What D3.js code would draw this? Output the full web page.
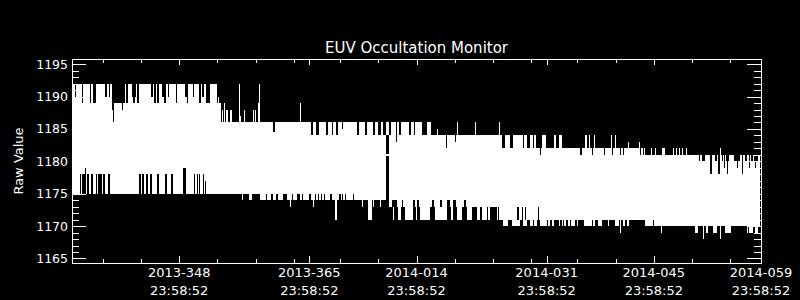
<!DOCTYPE html>
<html>
<head>
<meta charset="utf-8">
<script src="https://cdn.jsdelivr.net/npm/d3@7"></script>
<style>
  html, body { margin: 0; padding: 0; background: #000; }
  svg { display: block; }
  text { fill: #fff; font-family: "DejaVu Sans", sans-serif; }
</style>
</head>
<body>
<div id="chart"></div>
<script>
// x values are day numbers counted from 2013-001 (2014-014 = 379), all at 23:58:52
const dayRange = [334, 424];
const majorDays = [348, 365, 379, 396, 410, 424];
const minorDays = [338, 343, 353, 358, 363, 369, 374, 384, 389, 394, 400, 405, 415, 420];
const yMajor = [1165, 1170, 1175, 1180, 1185, 1190, 1195];

// solid part of the band: start day, upper and lower raw value
const segStart = [334.0, 352.95, 363.8, 375.43, 379.67, 389.67, 393.59, 408.88];
const segEnd = 423.85;
const segHi = [1192, 1186, 1186, 1186, 1184, 1184, 1182, 1181];
const segLo = [1175, 1175, 1174, 1173, 1173, 1171, 1171, 1170];

// [from day, to day, low value, high value]
const upperCuts = [
  [334.39,334.52,1190,1192],[335.31,335.44,1189,1192],[336.35,336.48,1189,1192],
  [336.74,337.14,1189,1192],[338.31,338.51,1190,1192],[338.77,338.97,1190,1192],
  [339.23,340.93,1189,1192],[339.23,339.49,1188,1189],[339.36,339.45,1186,1188],
  [340.47,340.60,1188,1189],[341.06,341.32,1189,1192],[341.84,342.36,1190,1192],
  [341.97,342.23,1189,1190],[342.43,342.69,1189,1192],[344.32,344.52,1190,1192],
  [344.72,344.98,1189,1192],[345.04,345.30,1189,1192],[345.76,345.96,1190,1192],
  [346.02,346.28,1189,1192],[346.48,346.68,1190,1192],[347.53,347.72,1189,1192],
  [348.77,348.96,1190,1192],[348.96,349.16,1189,1192],[349.81,349.94,1190,1192],
  [350.60,350.79,1189,1192],[350.99,351.18,1190,1192],[351.45,352.03,1189,1192],
  [360.27,360.53,1184.5,1186],[365.23,365.46,1184,1186],[365.89,366.32,1184,1186],
  [367.19,367.41,1184,1186],[367.94,368.15,1184,1186],[368.50,368.72,1184,1186],
  [369.24,369.45,1185,1186],[371.24,371.50,1184,1186],[372.29,372.51,1184,1186],
  [373.30,373.60,1184,1186],[374.03,374.38,1184,1186],[374.60,375.03,1184,1186],
  [375.46,375.65,1184,1186],[376.34,376.47,1183,1186],[376.77,376.95,1184,1186],
  [378.08,378.26,1184,1186],[378.69,378.86,1184,1186],
  [382.87,383.00,1182,1184],[384.05,384.18,1183,1184],[390.23,390.54,1182,1184],
  [391.24,391.67,1182,1184],[392.85,392.98,1182,1184],[393.46,393.59,1182,1184],
  [395.16,395.29,1181,1182],[400.39,400.65,1181,1182],[401.95,402.08,1181,1182],
  [403.52,403.65,1181,1182],[404.57,404.70,1181,1182],[405.61,405.74,1181,1182],
  [406.00,406.13,1181,1182],[408.23,408.36,1181,1182],[408.62,408.75,1181,1182],
  [415.90,416.07,1180,1181],[416.29,416.63,1180,1181],[417.38,417.59,1178,1181],
  [418.03,418.20,1180,1181],[418.42,418.68,1178,1181],[418.90,419.07,1180,1181],
  [419.14,419.27,1179,1181],[419.42,419.76,1180,1181],[419.60,419.73,1178,1181],
  [420.42,421.30,1180,1181],[420.84,420.97,1179,1181],[421.56,421.69,1178,1181],
  [421.95,422.16,1180,1181],[422.37,422.50,1179,1181],[422.73,422.90,1180,1181],
  [423.03,423.61,1180,1181],[423.26,423.39,1179,1181]
];

const upperSpikes = [
  [352.95,353.08,1186,1189],[353.12,353.25,1186,1190],[353.25,353.47,1186,1189],
  [353.56,353.73,1186,1188],[353.90,354.03,1186,1189],[354.16,354.35,1186,1188],
  [354.65,354.91,1186,1188],[355.86,355.99,1186,1192],[355.95,356.08,1186,1187],
  [356.44,356.61,1186,1188],[357.65,357.82,1186,1188],[357.91,358.08,1186,1188],
  [358.27,358.44,1186,1189],[358.44,358.57,1186,1192],[363.80,363.93,1186,1189],
  [380.39,380.91,1184,1186],[381.66,381.79,1184,1185],[384.31,384.44,1184,1186],
  [386.66,386.79,1184,1186],[389.80,389.93,1184,1186],
  [393.85,394.24,1182,1184],[394.37,394.63,1182,1184],[395.42,395.94,1182,1184],
  [396.99,397.25,1182,1184],[397.64,398.03,1182,1184],[401.04,401.30,1182,1184],
  [401.56,401.69,1182,1184],[402.21,402.34,1182,1184],[404.44,404.57,1182,1184],
  [404.96,405.09,1182,1184],[406.66,406.79,1182,1183],[408.10,408.23,1182,1183],
  [409.67,409.80,1181,1182],[410.19,410.32,1181,1182],[411.11,411.50,1181,1182],
  [412.55,412.68,1181,1182],[412.94,413.07,1181,1182],[413.33,413.46,1181,1182],
  [413.72,413.85,1181,1182],[414.25,414.38,1181,1182],[418.68,418.81,1181,1182]
];

const lowerCuts = [
  [335.05,335.18,1175,1178],[335.37,335.70,1175,1178],[335.70,335.83,1175,1179],
  [335.96,336.22,1175,1178],[336.42,336.68,1175,1178],[337.14,337.33,1175,1178],
  [337.46,337.66,1175,1178],[337.72,337.92,1175,1178],[338.05,338.31,1175,1178],
  [338.70,338.90,1175,1178],[342.76,343.02,1175,1178],[343.08,343.41,1175,1178],
  [343.67,343.87,1175,1178],[344.19,344.39,1175,1178],[345.11,345.37,1175,1178],
  [346.15,346.35,1175,1178],[346.94,347.20,1175,1178],[348.51,348.84,1175,1179],
  [349.94,350.07,1175,1178],[350.30,350.43,1175,1178],[350.64,350.77,1175,1178],
  [351.08,351.21,1175,1178],[351.38,351.51,1175,1177],
  [364.02,364.23,1174,1175],[365.01,365.19,1174,1175],[365.72,365.89,1174,1175],
  [366.19,366.32,1174,1175],[366.50,366.63,1174,1175],[366.93,367.06,1174,1175],
  [367.72,367.94,1174,1175],[368.93,369.11,1174,1175],[369.24,369.37,1174,1175],
  [369.64,369.81,1174,1175],[370.76,370.85,1174,1175],
  [375.78,376.43,1173,1174],[377.08,377.29,1173,1174],[378.60,378.82,1173,1174],
  [379.12,379.38,1173,1174],[381.01,381.31,1173,1174],[382.09,382.31,1173,1174],
  [382.97,383.40,1173,1174],[383.83,384.18,1173,1174],[385.14,385.49,1173,1174],
  [389.71,389.84,1171,1173],[392.11,392.45,1171,1173],[392.77,392.90,1171,1173],
  [393.20,393.33,1171,1173],[394.81,394.94,1171,1173],
  [409.92,410.05,1170,1171]
];

const lowerSpikes = [
  [356.18,356.35,1174,1175],[357.13,357.48,1174,1175],[358.57,359.09,1174,1175],
  [359.13,359.31,1174,1175],[359.48,360.01,1174,1175],[360.27,360.66,1174,1175],
  [360.92,361.58,1174,1175],[362.10,362.75,1174,1175],[362.49,362.62,1173,1174],
  [362.88,363.40,1174,1175],[365.49,365.62,1173,1174],[368.37,368.67,1171,1174],
  [371.86,372.07,1173,1174],[372.72,373.17,1171,1174],[373.30,373.43,1173,1174],
  [374.25,374.38,1173,1174],
  [375.90,376.08,1171,1173],[376.64,376.95,1171,1173],[377.52,378.52,1171,1173],
  [378.95,379.12,1171,1173],[379.48,380.78,1171,1173],[381.44,382.97,1171,1173],
  [383.49,383.83,1171,1173],[384.27,384.92,1171,1173],[385.66,386.23,1171,1173],
  [386.89,387.32,1171,1173],[387.54,388.19,1171,1173],[388.40,388.62,1171,1173],
  [389.58,389.76,1171,1173],
  [390.28,391.01,1170,1171],[391.46,392.54,1170,1171],[392.90,393.42,1170,1171],
  [393.85,394.20,1170,1171],[394.37,394.73,1170,1171],[395.16,396.03,1170,1171],
  [396.24,396.47,1170,1171],[396.69,396.99,1170,1171],[397.55,397.77,1170,1171],
  [397.99,398.12,1170,1171],[398.29,398.55,1170,1171],[398.73,398.99,1170,1171],
  [399.17,399.73,1170,1171],[399.95,400.16,1170,1171],[400.82,401.91,1170,1171],
  [402.12,402.35,1170,1171],[402.65,403.22,1170,1171],[403.95,404.21,1170,1171],
  [404.96,405.39,1170,1171],[405.61,405.74,1169,1171],[405.96,406.27,1170,1171],
  [406.49,406.75,1170,1171],
  [410.97,411.10,1169,1170],[415.40,415.80,1169,1170],[416.42,416.59,1168,1170],
  [416.85,417.11,1169,1170],[417.73,418.29,1169,1170],[418.68,418.81,1168,1170],
  [419.34,420.08,1169,1170],[422.16,422.29,1169,1170],[422.47,423.00,1169,1170],
  [423.26,423.65,1169,1170]
];

// the one dark column near 2014-010
const dropout = [[375.06,375.43,1181.2,1184],[375.06,375.43,1174,1180.8]];

const W = 800, H = 300;
const margin = {top: 59, right: 39, bottom: 37, left: 72};
const width = W - margin.left - margin.right;
const height = H - margin.top - margin.bottom;

const t0 = Date.UTC(2013, 0, 1, 23, 58, 52);
function toDate(d) { return new Date(t0 + (d - 1) * 864e5); }

const x = d3.scaleUtc().domain(dayRange.map(toDate)).range([0, width]);
const y = d3.scaleLinear().domain([1164.3, 1195.8]).range([height, 0]);

const svg = d3.select("#chart").append("svg")
    .attr("width", W)
    .attr("height", H)
    .style("background", "#000");

svg.append("text")
    .attr("x", margin.left + width / 2)
    .attr("y", 52.5)
    .attr("text-anchor", "middle")
    .style("font-size", "15px")
    .text("EUV Occultation Monitor");

svg.append("text")
    .attr("transform", "translate(23," + (margin.top + height / 2) + ") rotate(-90)")
    .attr("text-anchor", "middle")
    .style("font-size", "13px")
    .text("Raw Value");

const g = svg.append("g").attr("transform", "translate(" + margin.left + "," + margin.top + ")");

g.append("clipPath").attr("id", "clip")
    .append("rect").attr("width", width).attr("height", height);

const plot = g.append("g").attr("clip-path", "url(#clip)").attr("shape-rendering", "crispEdges");

const segs = segStart.map((s, i) => [s, i < segStart.length - 1 ? segStart[i + 1] : segEnd, segLo[i], segHi[i]]);

function bars(rows, fill) {
    plot.append("g").selectAll("rect")
        .data(rows)
        .join("rect")
        .attr("x", d => x(toDate(d[0])))
        .attr("width", d => Math.max(1, x(toDate(d[1])) - x(toDate(d[0]))))
        .attr("y", d => y(d[3]))
        .attr("height", d => Math.max(1, y(d[2]) - y(d[3])))
        .attr("fill", fill);
}

bars(segs, "#fff");
bars(upperSpikes, "#fff");
bars(lowerSpikes, "#fff");
bars(upperCuts, "#000");
bars(lowerCuts, "#000");
bars(dropout, "#000");

// axes, all ticks point inward
const yMinor = d3.range(1165, 1196).filter(v => v % 5 !== 0);
const axes = g.append("g").attr("class", "axes");

axes.append("g").call(d3.axisLeft(y).tickValues(yMajor).tickSize(-14).tickPadding(4).tickFormat(d3.format("d")));
axes.append("g").call(d3.axisLeft(y).tickValues(yMinor).tickSize(-7).tickFormat(""));
axes.append("g").attr("transform", "translate(" + width + ",0)")
    .call(d3.axisRight(y).tickValues(yMajor).tickSize(-14).tickFormat(""));
axes.append("g").attr("transform", "translate(" + width + ",0)")
    .call(d3.axisRight(y).tickValues(yMinor).tickSize(-7).tickFormat(""));

const majorDates = majorDays.map(toDate);
const minorDates = minorDays.map(toDate);
axes.append("g").attr("transform", "translate(0," + height + ")")
    .call(d3.axisBottom(x).tickValues(majorDates).tickSize(-7).tickFormat(""));
axes.append("g").attr("transform", "translate(0," + height + ")")
    .call(d3.axisBottom(x).tickValues(minorDates).tickSize(-4).tickFormat(""));
axes.append("g")
    .call(d3.axisTop(x).tickValues(majorDates).tickSize(-6).tickFormat(""));
axes.append("g")
    .call(d3.axisTop(x).tickValues(minorDates).tickSize(-4).tickFormat(""));

axes.selectAll(".domain").remove();
axes.selectAll("line").attr("stroke", "#fff").attr("shape-rendering", "crispEdges");
axes.selectAll("text").attr("fill", "#fff").style("font-size", "12.5px").style("font-family", "DejaVu Sans, sans-serif");

g.append("rect")
    .attr("width", width)
    .attr("height", height)
    .attr("fill", "none")
    .attr("stroke", "#fff")
    .attr("shape-rendering", "crispEdges");

// two-line date labels under the frame
const fmtDay = d3.utcFormat("%Y-%j");
const fmtTime = d3.utcFormat("%H:%M:%S");
const lab = g.append("g").selectAll("text")
    .data(majorDates)
    .join("text")
    .attr("text-anchor", "middle")
    .style("font-size", "13px");
lab.append("tspan").attr("x", d => x(d)).attr("y", height + 14).text(d => fmtDay(d));
lab.append("tspan").attr("x", d => x(d)).attr("y", height + 32).text(d => fmtTime(d));
</script>
</body>
</html>
